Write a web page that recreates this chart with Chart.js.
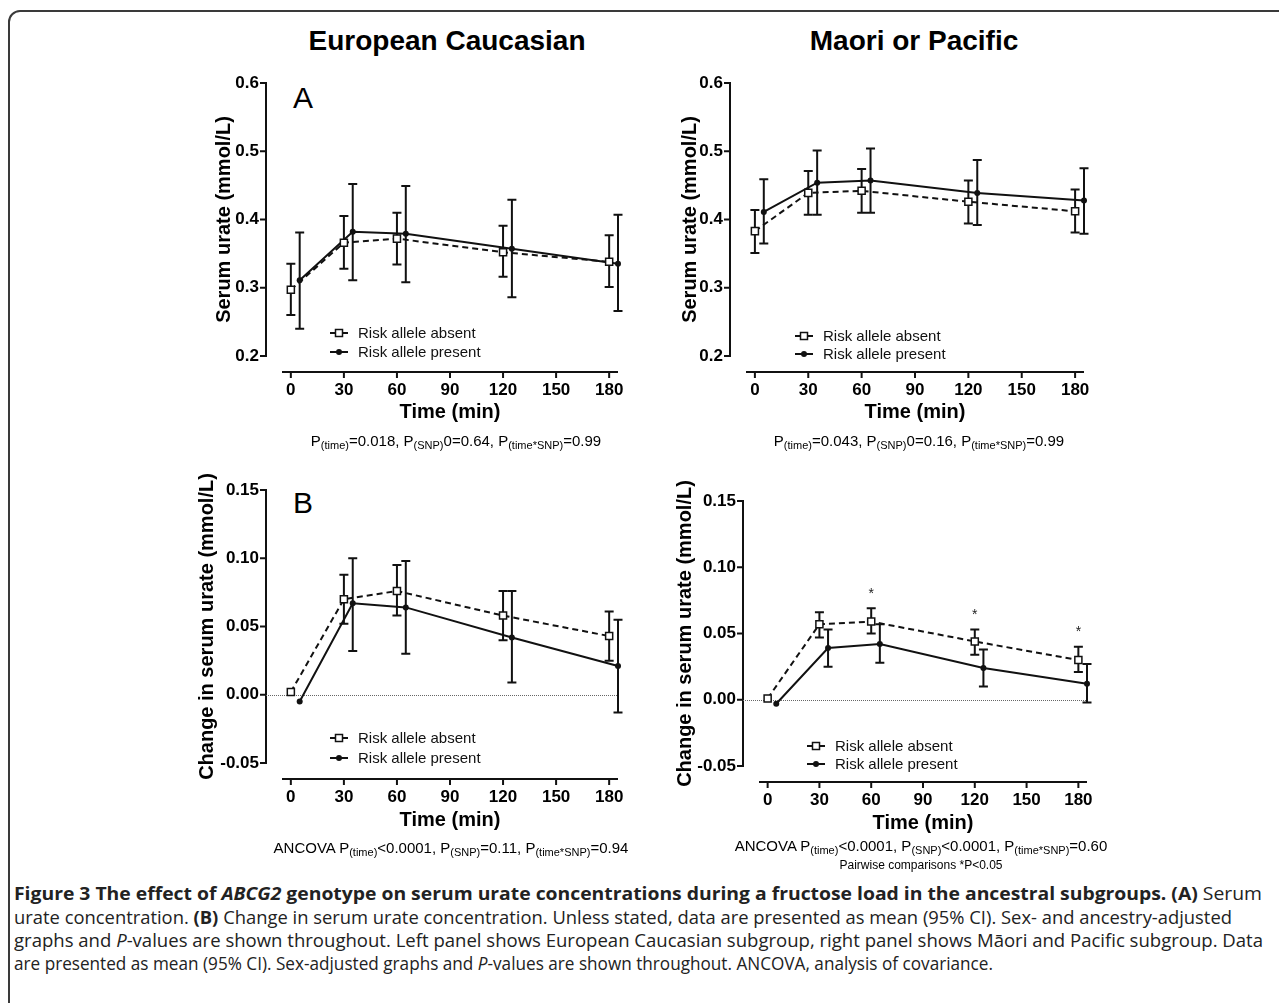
<!DOCTYPE html>
<html>
<head>
<meta charset="utf-8">
<script src="https://cdn.jsdelivr.net/npm/chart.js@4.4.0/dist/chart.umd.min.js"></script>
<style>
  html, body { margin: 0; padding: 0; background: #fff; }
  body { width: 1279px; height: 1003px; position: relative; overflow: hidden; font-family: "Liberation Sans", Arial, sans-serif; }
  .frame { position: absolute; left: 8px; top: 10px; width: 1300px; height: 1030px; border: 2px solid #3a3a3a; border-top-left-radius: 12px; }
  canvas { position: absolute; }
  .t { position: absolute; transform: translate(-50%, -50%); white-space: nowrap; color: #000; line-height: 1; }
  .head { font-weight: bold; font-size: 28px; }
  .letter { font-size: 30px; }
  .pv { font-size: 15px; }
  .pv sub { font-size: 11px; vertical-align: -3px; line-height: 0; }
  .small { font-size: 12px; }
  .cap { position: absolute; left: 14px; white-space: nowrap; font-family: "Open Sans", sans-serif; font-size: 18px; line-height: 20px; color: #222; transform-origin: 0 50%; }
  .cap b { color: #222; }
</style>
</head>
<body>
<div class="frame"></div>

<div class="t head" style="left:447px; top:41px;">European Caucasian</div>
<div class="t head" style="left:914px; top:41px;">Maori or Pacific</div>
<div class="t letter" style="left:303px; top:98px;">A</div>
<div class="t letter" style="left:303px; top:503px;">B</div>

<canvas id="euroA" width="476" height="393" style="left:182px; top:43px;"></canvas>
<canvas id="maoriA" width="478" height="393" style="left:646px; top:43px;"></canvas>
<canvas id="euroB" width="476" height="393" style="left:182px; top:450px;"></canvas>
<canvas id="maoriB" width="468" height="385" style="left:659px; top:461px;"></canvas>

<div class="t pv" style="left:456px; top:440px;">P<sub>(time)</sub>=0.018, P<sub>(SNP)</sub>0=0.64, P<sub>(time*SNP)</sub>=0.99</div>
<div class="t pv" style="left:919px; top:440px;">P<sub>(time)</sub>=0.043, P<sub>(SNP)</sub>0=0.16, P<sub>(time*SNP)</sub>=0.99</div>
<div class="t pv" style="left:451px; top:847px;">ANCOVA P<sub>(time)</sub>&lt;0.0001, P<sub>(SNP)</sub>=0.11, P<sub>(time*SNP)</sub>=0.94</div>
<div class="t pv" style="left:921px; top:845px;">ANCOVA P<sub>(time)</sub>&lt;0.0001, P<sub>(SNP)</sub>&lt;0.0001, P<sub>(time*SNP)</sub>=0.60</div>
<div class="t small" style="left:921px; top:865px;">Pairwise comparisons *P&lt;0.05</div>

<div class="cap" data-w="1248" style="top:883px;"><b>Figure 3 The effect of <i>ABCG2</i> genotype on serum urate concentrations during a fructose load in the ancestral subgroups. (A)</b> Serum</div>
<div class="cap" data-w="1218" style="top:907px;">urate concentration. <b>(B)</b> Change in serum urate concentration. Unless stated, data are presented as mean (95% CI). Sex- and ancestry-adjusted</div>
<div class="cap" data-w="1249" style="top:930px;">graphs and <i>P</i>-values are shown throughout. Left panel shows European Caucasian subgroup, right panel shows Māori and Pacific subgroup. Data</div>
<div class="cap" data-w="979" style="top:953px;">are presented as mean (95% CI). Sex-adjusted graphs and <i>P</i>-values are shown throughout. ANCOVA, analysis of covariance.</div>

<script>
"use strict";

// time points (min); the risk-present group is nudged +5 min so bars don't overlap
const timesAbsent = [0, 30, 60, 120, 180];
const timesPresent = [5, 35, 65, 125, 185];
const timeTicks = [0, 30, 60, 90, 120, 150, 180];
const urateTicks = [0.2, 0.3, 0.4, 0.5, 0.6];
const changeTicks = [-0.05, 0, 0.05, 0.1, 0.15];
const seriesNames = ["Risk allele absent", "Risk allele present"];

// A: European Caucasian serum urate (mmol/L), mean and 95% CI
const euroUrateAbsent = [0.297, 0.366, 0.372, 0.352, 0.338];
const euroUrateAbsentLo = [0.260, 0.328, 0.334, 0.316, 0.301];
const euroUrateAbsentHi = [0.335, 0.405, 0.410, 0.391, 0.377];
const euroUratePresent = [0.311, 0.382, 0.379, 0.357, 0.335];
const euroUratePresentLo = [0.240, 0.311, 0.308, 0.286, 0.266];
const euroUratePresentHi = [0.381, 0.452, 0.449, 0.429, 0.407];

// A: Maori or Pacific serum urate
const maoriUrateAbsent = [0.383, 0.439, 0.442, 0.426, 0.412];
const maoriUrateAbsentLo = [0.351, 0.407, 0.410, 0.394, 0.381];
const maoriUrateAbsentHi = [0.414, 0.471, 0.474, 0.457, 0.444];
const maoriUratePresent = [0.411, 0.454, 0.457, 0.439, 0.428];
const maoriUratePresentLo = [0.365, 0.407, 0.410, 0.392, 0.379];
const maoriUratePresentHi = [0.459, 0.501, 0.504, 0.487, 0.475];

// B: European Caucasian change in serum urate (no CI at baseline)
const euroChangeAbsent = [0.002, 0.070, 0.076, 0.058, 0.043];
const euroChangeAbsentLo = [null, 0.052, 0.058, 0.040, 0.025];
const euroChangeAbsentHi = [null, 0.088, 0.095, 0.076, 0.061];
const euroChangePresent = [-0.005, 0.067, 0.064, 0.042, 0.021];
const euroChangePresentLo = [null, 0.032, 0.030, 0.009, -0.013];
const euroChangePresentHi = [null, 0.100, 0.098, 0.076, 0.055];

// B: Maori or Pacific change in serum urate
const maoriChangeAbsent = [0.001, 0.057, 0.059, 0.044, 0.030];
const maoriChangeAbsentLo = [null, 0.047, 0.050, 0.034, 0.021];
const maoriChangeAbsentHi = [null, 0.066, 0.069, 0.053, 0.040];
const maoriChangePresent = [-0.003, 0.039, 0.042, 0.024, 0.012];
const maoriChangePresentLo = [null, 0.025, 0.028, 0.010, -0.002];
const maoriChangePresentHi = [null, 0.053, 0.057, 0.038, 0.027];

// pairwise significance marks (Maori B)
const starTimes = [60, 120, 180];
const starLevels = [0.082, 0.066, 0.053];

const axisGap = 16;
const tickLen = 6;
const ink = "#111";

Chart.defaults.font.family = "'Liberation Sans', Arial, sans-serif";
Chart.defaults.color = "#000";

function toPoints(xs, ys) {
  return xs.map((x, i) => ({ x: x, y: ys[i] }));
}

// prism-style detached axes, error bars, inset legend
function prismPlugin(cfg) {
  return {
    id: "prism",
    beforeDatasetsDraw(chart) {
      const ctx = chart.ctx;
      const a = chart.chartArea;
      const xs = chart.scales.x;
      const ys = chart.scales.y;
      const axX = a.left - axisGap;
      const axY = a.bottom + axisGap;
      ctx.save();
      ctx.strokeStyle = ink;
      ctx.lineWidth = 2;
      ctx.beginPath();
      ctx.moveTo(axX, ys.getPixelForValue(cfg.yTicks[cfg.yTicks.length - 1]) - 1);
      ctx.lineTo(axX, ys.getPixelForValue(cfg.yTicks[0]) + 1);
      cfg.yTicks.forEach(v => {
        const py = ys.getPixelForValue(v);
        ctx.moveTo(axX - tickLen, py);
        ctx.lineTo(axX, py);
      });
      ctx.moveTo(a.left, axY);
      ctx.lineTo(a.right, axY);
      timeTicks.forEach(v => {
        const px = xs.getPixelForValue(v);
        ctx.moveTo(px, axY);
        ctx.lineTo(px, axY + tickLen);
      });
      ctx.stroke();

      if (cfg.zeroLine !== undefined) {
        ctx.save();
        ctx.strokeStyle = "#666";
        ctx.lineWidth = 1;
        ctx.setLineDash([1, 1]);
        const pz = Math.round(ys.getPixelForValue(cfg.zeroLine)) + 0.5;
        ctx.beginPath();
        ctx.moveTo(axX, pz);
        ctx.lineTo(a.right, pz);
        ctx.stroke();
        ctx.restore();
      }

      // 95% CI bars
      ctx.lineWidth = 2;
      chart.data.datasets.forEach((ds, i) => {
        const err = cfg.errors[i];
        ds.data.forEach((p, j) => {
          if (err.lo[j] === null) return;
          const px = xs.getPixelForValue(p.x);
          const y1 = ys.getPixelForValue(err.lo[j]);
          const y2 = ys.getPixelForValue(err.hi[j]);
          ctx.beginPath();
          ctx.moveTo(px, y1);
          ctx.lineTo(px, y2);
          ctx.moveTo(px - 4.5, y1);
          ctx.lineTo(px + 4.5, y1);
          ctx.moveTo(px - 4.5, y2);
          ctx.lineTo(px + 4.5, y2);
          ctx.stroke();
        });
      });
      ctx.restore();
    },
    afterDatasetsDraw(chart) {
      const ctx = chart.ctx;
      const a = chart.chartArea;
      const xs = chart.scales.x;
      const ys = chart.scales.y;
      ctx.save();
      const lx = a.left + cfg.legend.dx;
      chart.data.datasets.forEach((ds, i) => {
        const ly = a.bottom + cfg.legend.dy[i];
        ctx.strokeStyle = ink;
        ctx.fillStyle = ink;
        ctx.lineWidth = 2;
        ctx.beginPath();
        ctx.moveTo(lx, ly);
        ctx.lineTo(lx + 18, ly);
        ctx.stroke();
        if (ds.pointStyle === "rect") {
          ctx.fillStyle = "#fff";
          ctx.lineWidth = 1.5;
          ctx.fillRect(lx + 5.5, ly - 3.5, 7, 7);
          ctx.strokeRect(lx + 5.5, ly - 3.5, 7, 7);
        } else {
          ctx.beginPath();
          ctx.arc(lx + 9, ly, 3, 0, Math.PI * 2);
          ctx.fill();
        }
        ctx.fillStyle = "#111";
        ctx.font = "15px 'Liberation Sans', Arial, sans-serif";
        ctx.textBaseline = "middle";
        ctx.textAlign = "left";
        ctx.fillText(ds.label, lx + 28, ly + 1);
      });
      if (cfg.stars) {
        ctx.font = "14px 'Liberation Sans', Arial, sans-serif";
        ctx.textAlign = "center";
        ctx.textBaseline = "middle";
        ctx.fillStyle = "#222";
        cfg.stars.times.forEach((t, k) => {
          ctx.fillText("*", xs.getPixelForValue(t), ys.getPixelForValue(cfg.stars.levels[k]) + 3);
        });
      }
      ctx.restore();
    }
  };
}

function makePanel(cfg) {
  const canvas = document.getElementById(cfg.id);
  const absent = {
    label: seriesNames[0],
    data: toPoints(timesAbsent, cfg.absent),
    borderColor: ink,
    borderWidth: 2,
    borderDash: [6, 4],
    pointStyle: "rect",
    pointRadius: 5,
    pointBackgroundColor: "#fff",
    pointBorderColor: ink,
    pointBorderWidth: 1.5,
    clip: false
  };
  const present = {
    label: seriesNames[1],
    data: toPoints(timesPresent, cfg.present),
    borderColor: ink,
    borderWidth: 2,
    pointStyle: "circle",
    pointRadius: 3,
    pointBackgroundColor: ink,
    pointBorderColor: ink,
    pointBorderWidth: 0,
    clip: false
  };
  const decimals = cfg.yTicks === urateTicks ? 1 : 2;
  return new Chart(canvas, {
    type: "line",
    data: { datasets: [absent, present] },
    options: {
      responsive: false,
      animation: false,
      devicePixelRatio: 1,
      layout: { padding: { left: 0, top: 40, right: 40, bottom: 0 } },
      plugins: { legend: { display: false }, tooltip: { enabled: false } },
      scales: {
        x: {
          type: "linear",
          min: -5,
          max: 185,
          grid: { display: false, drawTicks: false },
          border: { display: false },
          afterBuildTicks: s => { s.ticks = timeTicks.map(v => ({ value: v })); },
          afterFit: s => { s.height = 80; },
          ticks: { padding: 24, color: "#000", font: { size: 17, weight: "bold" } },
          title: {
            display: true,
            text: "Time (min)",
            color: "#000",
            font: { size: 20, weight: "bold" },
            padding: { top: 0, bottom: cfg.xTitlePad }
          }
        },
        y: {
          type: "linear",
          min: cfg.yTicks[0],
          max: cfg.yTicks[cfg.yTicks.length - 1],
          grid: { display: false, drawTicks: false },
          border: { display: false },
          afterBuildTicks: s => { s.ticks = cfg.yTicks.map(v => ({ value: v })); },
          afterFit: s => { s.width = 100; },
          ticks: {
            padding: 23,
            color: "#000",
            font: { size: 17, weight: "bold" },
            callback: v => v.toFixed(decimals)
          },
          title: {
            display: true,
            text: cfg.yTitle,
            color: "#000",
            font: { size: 20, weight: "bold" },
            padding: { top: cfg.yTitlePad, bottom: 0 }
          }
        }
      }
    },
    plugins: [prismPlugin(cfg)]
  });
}

makePanel({
  id: "euroA",
  yTicks: urateTicks,
  yTitle: "Serum urate (mmol/L)",
  yTitlePad: 30,
  xTitlePad: 12,
  absent: euroUrateAbsent,
  present: euroUratePresent,
  errors: [
    { lo: euroUrateAbsentLo, hi: euroUrateAbsentHi },
    { lo: euroUratePresentLo, hi: euroUratePresentHi }
  ],
  legend: { dx: 48, dy: [-23, -4] }
});

makePanel({
  id: "maoriA",
  yTicks: urateTicks,
  yTitle: "Serum urate (mmol/L)",
  yTitlePad: 32,
  xTitlePad: 12,
  absent: maoriUrateAbsent,
  present: maoriUratePresent,
  errors: [
    { lo: maoriUrateAbsentLo, hi: maoriUrateAbsentHi },
    { lo: maoriUratePresentLo, hi: maoriUratePresentHi }
  ],
  legend: { dx: 49, dy: [-20, -2] }
});

makePanel({
  id: "euroB",
  yTicks: changeTicks,
  yTitle: "Change in serum urate (mmol/L)",
  yTitlePad: 13,
  xTitlePad: 11,
  zeroLine: 0,
  absent: euroChangeAbsent,
  present: euroChangePresent,
  errors: [
    { lo: euroChangeAbsentLo, hi: euroChangeAbsentHi },
    { lo: euroChangePresentLo, hi: euroChangePresentHi }
  ],
  legend: { dx: 48, dy: [-25, -5] }
});

makePanel({
  id: "maoriB",
  yTicks: changeTicks,
  yTitle: "Change in serum urate (mmol/L)",
  yTitlePad: 14,
  xTitlePad: 11,
  zeroLine: 0,
  absent: maoriChangeAbsent,
  present: maoriChangePresent,
  errors: [
    { lo: maoriChangeAbsentLo, hi: maoriChangeAbsentHi },
    { lo: maoriChangePresentLo, hi: maoriChangePresentHi }
  ],
  stars: { times: starTimes, levels: starLevels },
  legend: { dx: 48, dy: [-20, -2] }
});

// squeeze caption lines to the widths used in the figure
document.querySelectorAll(".cap").forEach(el => {
  const target = +el.dataset.w;
  const w = el.getBoundingClientRect().width;
  el.style.transform = "scaleX(" + (target / w).toFixed(4) + ")";
});
</script>
</body>
</html>
